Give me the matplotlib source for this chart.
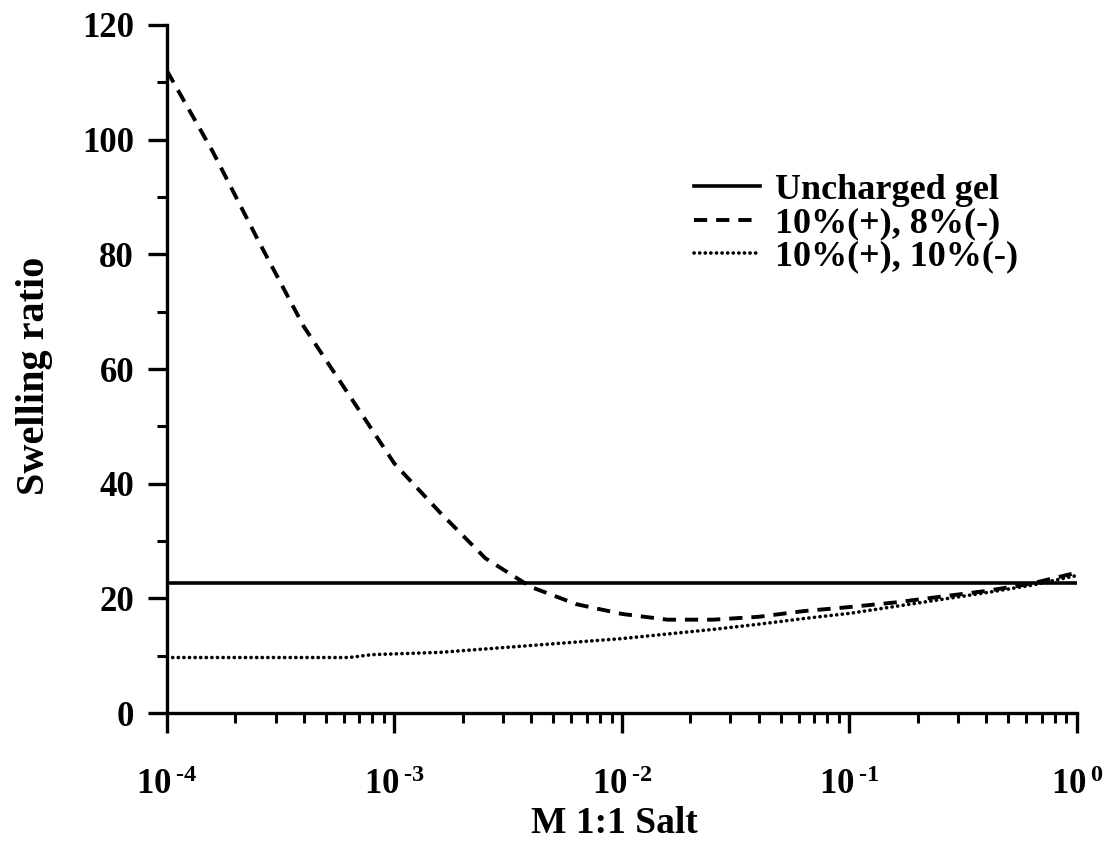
import numpy as np
import matplotlib
matplotlib.use("Agg")
import matplotlib.pyplot as plt
from matplotlib.ticker import FixedLocator, LogLocator, NullFormatter

plt.rcParams['font.family'] = ['Liberation Serif', 'DejaVu Serif']
plt.rcParams['font.weight'] = 'bold'
plt.rcParams['mathtext.fontset'] = 'custom'
plt.rcParams['mathtext.rm'] = 'Liberation Serif:bold'
plt.rcParams['mathtext.default'] = 'rm'

# salt concentration (log10 M) and swelling ratios
uncharged_level = 22.7

dashed_logc = [-4.0, -3.8, -3.6, -3.4, -3.2, -3.0, -2.8, -2.6, -2.4, -2.2,
               -2.0, -1.8, -1.6, -1.4, -1.2, -1.0, -0.8, -0.6, -0.4, -0.2, 0.0]
dashed_ratio = [112, 98, 82.5, 67.5, 55.5, 43.5, 35, 27, 22, 19,
                17.3, 16.3, 16.3, 16.8, 17.8, 18.5, 19.3, 20.3, 21.3, 22.6, 24.5]

dotted_logc = [-4.0, -3.6, -3.2, -3.1, -2.8, -2.6, -2.4, -2.2, -2.0, -1.8,
               -1.6, -1.4, -1.2, -1.0, -0.8, -0.6, -0.4, -0.2, 0.0]
dotted_ratio = [9.7, 9.7, 9.7, 10.2, 10.6, 11.2, 11.8, 12.4, 13.0, 13.8,
                14.6, 15.5, 16.5, 17.4, 18.6, 19.8, 21.0, 22.3, 24.0]

labels = ['Uncharged gel', '10%(+), 8%(-)', '10%(+), 10%(-)']
xtick_labels = [r'10$^{\,\text{-}4}$', r'10$^{\,\text{-}3}$', r'10$^{\,\text{-}2}$',
                r'10$^{\,\text{-}1}$', r'10$^{\,0}$']

fig = plt.figure(figsize=(11.09, 8.5), dpi=100)
ax = fig.add_axes([0.1506, 0.161, 0.8204, 0.8096])

ax.plot([1e-4, 1.0], [uncharged_level, uncharged_level], color='black', lw=2.6,
        label=labels[0])
ax.plot(10 ** np.array(dashed_logc), dashed_ratio, color='black', lw=2.8,
        linestyle=(0, (3.4, 2.3)), label=labels[1])
ax.plot(10 ** np.array(dotted_logc), dotted_ratio, color='black', lw=2.6,
        linestyle=(0, (0.05, 1.5)), dash_capstyle='round', label=labels[2])

ax.set_xscale('log')
ax.set_xlim(1e-4, 1.0)
ax.set_ylim(0, 120)

for s in ['top', 'right']:
    ax.spines[s].set_visible(False)
for s in ['left', 'bottom']:
    ax.spines[s].set_linewidth(2.4)

ax.set_yticks([0, 20, 40, 60, 80, 100, 120])
ax.yaxis.set_minor_locator(FixedLocator([10, 30, 50, 70, 90, 110]))
ax.set_xticks([1e-4, 1e-3, 1e-2, 1e-1, 1.0])
ax.set_xticklabels(xtick_labels)
ax.xaxis.set_minor_locator(LogLocator(base=10, subs=np.arange(2, 10)))
ax.xaxis.set_minor_formatter(NullFormatter())

ax.tick_params(axis='y', which='major', direction='out', length=13.7, width=2.4,
               labelsize=25, pad=10)
ax.tick_params(axis='y', which='minor', direction='out', length=7.5, width=2.2)
ax.tick_params(axis='x', which='major', direction='out', length=14.4, width=2.4,
               labelsize=25, pad=26)
ax.tick_params(axis='x', which='minor', direction='out', length=7, width=2.2)

ax.set_xlabel('M 1:1 Salt', fontsize=27, fontweight='bold')
ax.set_ylabel('Swelling ratio', fontsize=29, fontweight='bold')
ax.xaxis.set_label_coords(0.492, -0.135)
ax.yaxis.set_label_coords(-0.125, 0.49)

ax.legend(loc='upper left', bbox_to_anchor=(0.559, 0.81), frameon=False,
          fontsize=26, handlelength=1.83, handletextpad=0.42, labelspacing=0.0,
          borderpad=0)

fig.savefig('out.png', dpi=100)
